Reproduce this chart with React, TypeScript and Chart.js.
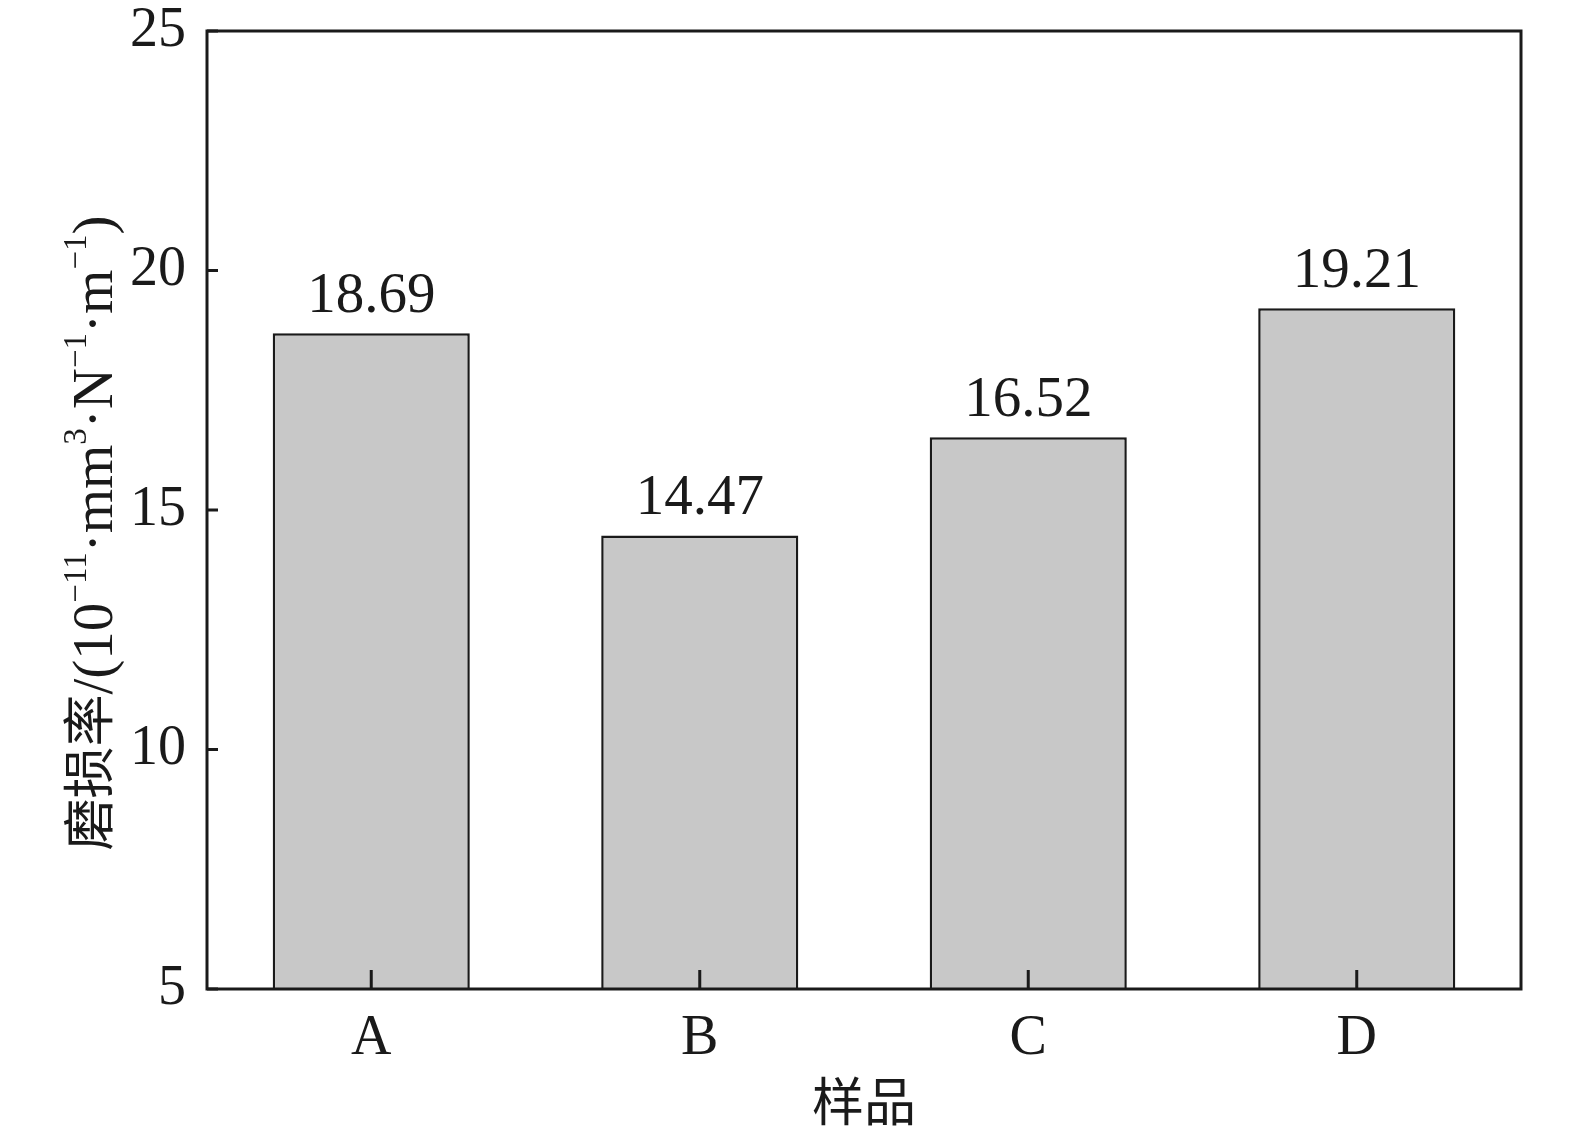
import React, { useEffect, useRef } from "react";
import { Chart, registerables } from "chart.js";

Chart.register(...registerables);

const categories = ["A", "B", "C", "D"];
const wearRates = [18.69, 14.47, 16.52, 19.21];
const valueLabels = ["18.69", "14.47", "16.52", "19.21"];
const yTickValues = [5, 10, 15, 20, 25];
const xTitle = "样品";
const yTitleParts: { t: string; sup?: boolean; cjk?: boolean }[] = [
  { t: "磨损率", cjk: true },
  { t: "/(10" },
  { t: "−11", sup: true },
  { t: "·mm" },
  { t: "3", sup: true },
  { t: "·N" },
  { t: "−1", sup: true },
  { t: "·m" },
  { t: "−1", sup: true },
  { t: ")" },
];

const SERIF = '"Liberation Serif", "Times New Roman", serif';
const CJK = '"Noto Sans CJK SC", sans-serif';
const INK = "#1a1a1a";
const W = 1575;
const H = 1144;

const decorPlugin = {
  id: "decor",
  afterDatasetsDraw(chart: any) {
    const { ctx, chartArea } = chart;
    const { left, right, top, bottom } = chartArea;
    const xs = chart.scales.x;
    const ys = chart.scales.y;
    ctx.save();
    ctx.strokeStyle = INK;
    ctx.lineWidth = 3;
    ctx.beginPath();
    yTickValues.forEach((v) => {
      const py = ys.getPixelForValue(v);
      ctx.moveTo(left, py);
      ctx.lineTo(left + 11, py);
    });
    categories.forEach((_, i) => {
      const px = xs.getPixelForValue(i);
      ctx.moveTo(px, bottom);
      ctx.lineTo(px, bottom - 19);
    });
    ctx.stroke();
    ctx.lineWidth = 3;
    ctx.strokeRect(left, top, right - left, bottom - top);

    const meta = chart.getDatasetMeta(0);
    ctx.fillStyle = INK;
    ctx.font = `57px ${SERIF}`;
    ctx.textAlign = "center";
    ctx.textBaseline = "alphabetic";
    meta.data.forEach((bar: any, i: number) => {
      ctx.fillText(valueLabels[i], bar.x, bar.y - 21);
    });

    ctx.font = `52px ${CJK}`;
    ctx.textBaseline = "middle";
    ctx.fillText(xTitle, (left + right) / 2, 1101);

    const fontFor = (p: any) =>
      p.cjk ? `52px ${CJK}` : p.sup ? `33px ${SERIF}` : `57px ${SERIF}`;
    let total = 0;
    const widths = yTitleParts.map((p) => {
      ctx.font = fontFor(p);
      const w = ctx.measureText(p.t).width;
      total += w;
      return w;
    });
    ctx.translate(112, 533);
    ctx.rotate(-Math.PI / 2);
    ctx.textAlign = "left";
    ctx.textBaseline = "alphabetic";
    let x = -total / 2;
    yTitleParts.forEach((p, i) => {
      ctx.font = fontFor(p);
      ctx.fillText(p.t, x, p.sup ? -26 : p.cjk ? -4 : 0);
      x += widths[i];
    });
    ctx.restore();
  },
};

export default function App() {
  const ref = useRef<HTMLCanvasElement | null>(null);
  useEffect(() => {
    document.body.style.margin = "0";
    const canvas = ref.current;
    if (!canvas) return;
    const chart = new Chart(canvas, {
      type: "bar",
      data: {
        labels: categories,
        datasets: [
          {
            data: wearRates,
            backgroundColor: "#c8c8c8",
            borderColor: INK,
            borderWidth: 2.5,
            barPercentage: 0.6,
            categoryPercentage: 1,
          },
        ],
      },
      options: {
        animation: false,
        responsive: false,
        devicePixelRatio: 1,
        layout: { padding: { top: 31, right: 54, left: 0, bottom: 0 } },
        plugins: {
          legend: { display: false },
          tooltip: { enabled: false },
        },
        scales: {
          x: {
            grid: { display: false, drawTicks: false },
            border: { display: false },
            ticks: {
              color: INK,
              font: { family: SERIF, size: 56 },
              padding: 17,
            },
            afterFit: (s: any) => {
              s.height = 155;
              s.paddingLeft = 0;
              s.paddingRight = 0;
            },
          },
          y: {
            min: 5,
            max: 25,
            grid: { display: false, drawTicks: false },
            border: { display: false },
            ticks: {
              stepSize: 5,
              color: INK,
              font: { family: SERIF, size: 56 },
              padding: 21,
            },
            afterFit: (s: any) => {
              s.width = 207;
              s.paddingTop = 0;
              s.paddingBottom = 0;
            },
          },
        },
      },
      plugins: [decorPlugin],
    });
    return () => chart.destroy();
  }, []);
  return (
    <div style={{ position: "fixed", left: 0, top: 0, width: W, height: H, background: "#fff" }}>
      <canvas ref={ref} width={W} height={H} style={{ width: W, height: H, display: "block" }} />
    </div>
  );
}
